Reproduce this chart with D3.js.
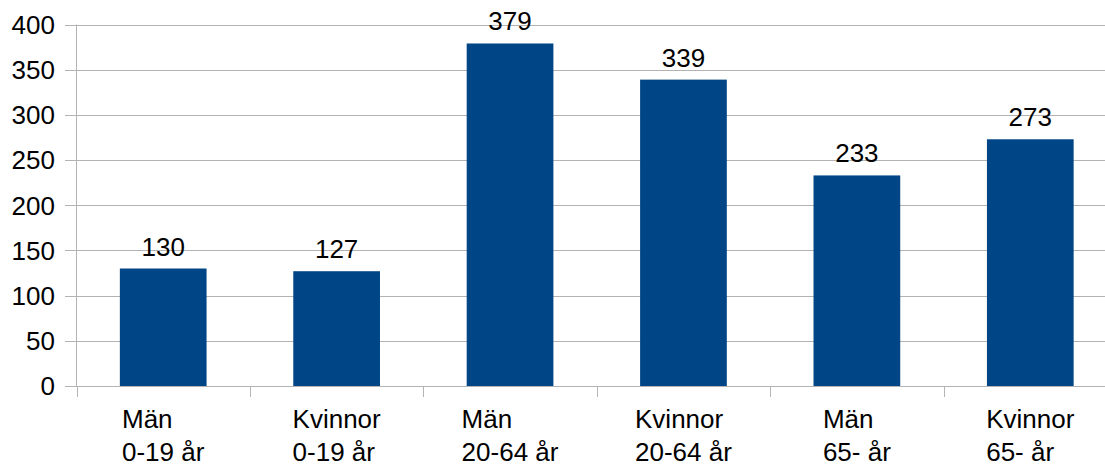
<!DOCTYPE html>
<html>
<head>
<meta charset="utf-8">
<script src="https://cdn.jsdelivr.net/npm/d3@7"></script>
<style>
  body { margin: 0; background: #fff; }
  svg { display: block; font-family: "Liberation Sans", Arial, sans-serif; }
</style>
</head>
<body>
<div id="chart"></div>
<script>
// category labels (two lines each) and values
const groups = ["Män", "Kvinnor", "Män", "Kvinnor", "Män", "Kvinnor"];
const ages = ["0-19 år", "0-19 år", "20-64 år", "20-64 år", "65- år", "65- år"];
const values = [130, 127, 379, 339, 233, 273];
const yTicks = [0, 50, 100, 150, 200, 250, 300, 350, 400];

function createBarGraph() {
    const width = 1105, height = 466;
    const left = 76.5, right = 1117, top = 24.5, bottom = 386;
    const fontSize = 26;

    const data = values.map((v, i) => ({ key: i, group: groups[i], age: ages[i], value: v }));

    const svg = d3.select("#chart").append("svg")
        .attr("width", width)
        .attr("height", height);

    const x = d3.scaleBand()
        .domain(data.map(d => d.key))
        .range([left, right])
        .padding(0);

    const y = d3.scaleLinear()
        .domain([0, 400])
        .range([bottom, top]);

    const gridColor = "#b3b3b3";

    // horizontal gridlines + tick stubs
    svg.append("g")
        .selectAll("line")
        .data(yTicks)
        .enter().append("line")
        .attr("x1", 65)
        .attr("x2", right)
        .attr("y1", d => Math.round(y(d)) + 0.5)
        .attr("y2", d => Math.round(y(d)) + 0.5)
        .attr("stroke", gridColor)
        .attr("stroke-width", 1);

    // y axis line
    svg.append("line")
        .attr("x1", left).attr("x2", left)
        .attr("y1", top).attr("y2", bottom)
        .attr("stroke", gridColor);

    // category tick marks at band boundaries
    const bounds = data.map(d => x(d.key)).concat([right]);
    svg.append("g")
        .selectAll("line")
        .data(bounds)
        .enter().append("line")
        .attr("x1", d => Math.round(d) + 0.5)
        .attr("x2", d => Math.round(d) + 0.5)
        .attr("y1", bottom)
        .attr("y2", 397)
        .attr("stroke", gridColor);

    // y tick labels
    svg.append("g")
        .selectAll("text")
        .data(yTicks)
        .enter().append("text")
        .attr("x", 55)
        .attr("y", d => y(d))
        .attr("dy", "0.36em")
        .attr("text-anchor", "end")
        .attr("font-size", fontSize)
        .attr("fill", "#000")
        .text(d => d);

    // bars
    const bw = x.bandwidth() / 2;
    svg.append("g")
        .selectAll("rect")
        .data(data)
        .enter().append("rect")
        .attr("x", d => x(d.key) + x.bandwidth() / 2 - bw / 2)
        .attr("y", d => y(d.value))
        .attr("width", bw)
        .attr("height", d => bottom - y(d.value))
        .attr("fill", "#004586");

    // value labels
    svg.append("g")
        .selectAll("text")
        .data(data)
        .enter().append("text")
        .attr("x", d => x(d.key) + x.bandwidth() / 2)
        .attr("y", d => y(d.value) - 13)
        .attr("text-anchor", "middle")
        .attr("font-size", fontSize)
        .attr("fill", "#000")
        .text(d => d.value);

    // category labels: two lines, left aligned, block centred on band
    const cats = svg.append("g")
        .selectAll("text")
        .data(data)
        .enter().append("text")
        .attr("font-size", fontSize)
        .attr("fill", "#000");
    cats.append("tspan").attr("class", "l1").attr("y", 428).text(d => d.group);
    cats.append("tspan").attr("class", "l2").attr("y", 461).text(d => d.age);
    cats.each(function(d) {
        const t = d3.select(this);
        const w = Math.max(t.select(".l1").node().getComputedTextLength(),
                           t.select(".l2").node().getComputedTextLength());
        const x0 = x(d.key) + x.bandwidth() / 2 - w / 2;
        t.selectAll("tspan").attr("x", x0);
    });
}

document.addEventListener("DOMContentLoaded", createBarGraph);
</script>
</body>
</html>
